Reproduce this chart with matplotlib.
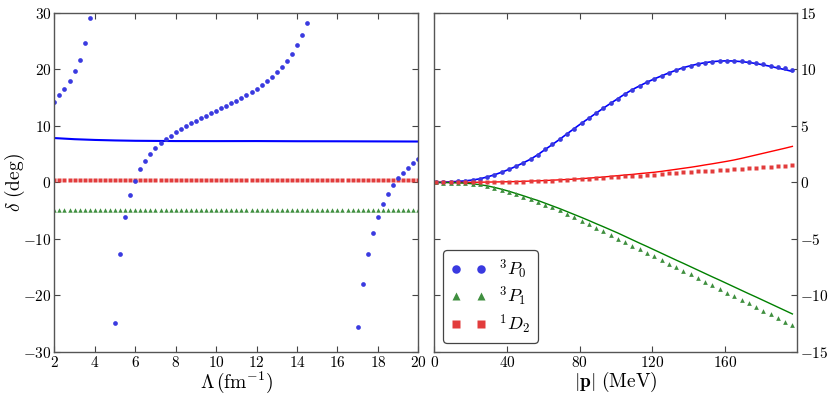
import numpy as np
import matplotlib
matplotlib.use('Agg')
import matplotlib.pyplot as plt
from matplotlib.ticker import FuncFormatter

plt.rcParams['mathtext.fontset'] = 'cm'
plt.rcParams['font.family'] = 'DejaVu Serif'

# left panel: phase shift vs cutoff Lambda
lam = np.arange(2, 20.001, 0.25)
p0_lam = [14.3, 15.4, 16.6, 18.0, 19.7, 21.7, 24.7, 29.1,
          np.nan, np.nan, np.nan, np.nan,
          -24.8, -12.65, -6.2, -2.3, 0.3, 2.3, 3.75, 5.0, 6.05, 6.9,
          7.6, 8.3, 8.9, 9.5, 10.0, 10.5, 10.95, 11.35, 11.8, 12.3,
          12.7, 13.1, 13.5, 14.0, 14.5, 15.0, 15.5, 16.0, 16.6, 17.3,
          17.9, 18.7, 19.5, 20.4, 21.5, 22.8, 24.3, 26.1, 28.3,
          np.nan, np.nan, np.nan, np.nan, np.nan, np.nan, np.nan, np.nan, np.nan,
          -25.6, -18.0, -12.65, -8.9, -6.05, -3.8, -2.0, -0.5, 0.7, 1.7,
          2.6, 3.4, 4.15]
p1_lam = [-4.9, -4.9, -4.9, -4.9, -4.9, -4.9, -4.9, -4.9, -4.9, -4.9,
          -4.9, -4.9, -4.9, -4.9, -4.9, -4.9, -4.9, -4.9, -4.9, -4.9,
          -4.9, -4.9, -4.9, -4.9, -4.9, -4.9, -4.9, -4.9, -4.9, -4.9,
          -4.9, -4.9, -4.9, -4.9, -4.9, -4.9, -4.9, -4.9, -4.9, -4.9,
          -4.9, -4.9, -4.9, -4.9, -4.9, -4.9, -4.9, -4.9, -4.9, -4.9,
          -4.9, -4.9, -4.9, -4.9, -4.9, -4.9, -4.9, -4.9, -4.9, -4.9,
          -4.9, -4.9, -4.9, -4.9, -4.9, -4.9, -4.9, -4.9, -4.9, -4.9,
          -4.9, -4.9, -4.9]
d2_lam = [0.45, 0.45, 0.45, 0.45, 0.45, 0.45, 0.45, 0.45, 0.45, 0.45,
          0.45, 0.45, 0.45, 0.45, 0.45, 0.45, 0.45, 0.45, 0.45, 0.45,
          0.45, 0.45, 0.45, 0.45, 0.45, 0.45, 0.45, 0.45, 0.45, 0.45,
          0.45, 0.45, 0.45, 0.45, 0.45, 0.45, 0.45, 0.45, 0.45, 0.45,
          0.45, 0.45, 0.45, 0.45, 0.45, 0.45, 0.45, 0.45, 0.45, 0.45,
          0.45, 0.45, 0.45, 0.45, 0.45, 0.45, 0.45, 0.45, 0.45, 0.45,
          0.45, 0.45, 0.45, 0.45, 0.45, 0.45, 0.45, 0.45, 0.45, 0.45,
          0.45, 0.45, 0.45]
lam_line = [2, 3, 4, 5, 6, 8, 10, 12, 14, 16, 18, 20]
p0_lam_line = [7.85, 7.65, 7.52, 7.43, 7.37, 7.32, 7.31, 7.32, 7.29, 7.28, 7.26, 7.24]

# right panel: phase shift vs momentum
p = np.arange(1, 198, 4)
p0_pts = [0.0, 0.02, 0.05, 0.09, 0.14, 0.21, 0.32, 0.48, 0.67, 0.9,
          1.15, 1.43, 1.74, 2.06, 2.46, 2.92, 3.36, 3.82, 4.3, 4.77,
          5.24, 5.68, 6.13, 6.57, 7.0, 7.42, 7.84, 8.22, 8.55, 8.87,
          9.16, 9.43, 9.69, 9.93, 10.16, 10.33, 10.48, 10.6, 10.69, 10.74,
          10.77, 10.75, 10.71, 10.65, 10.56, 10.44, 10.32, 10.2, 10.1, 9.97]
p0_line = [0.0, 0.02, 0.05, 0.09, 0.14, 0.21, 0.32, 0.48, 0.67, 0.9,
           1.15, 1.43, 1.74, 2.06, 2.46, 2.92, 3.36, 3.82, 4.3, 4.77,
           5.24, 5.68, 6.13, 6.57, 7.0, 7.42, 7.84, 8.22, 8.55, 8.87,
           9.16, 9.43, 9.69, 9.93, 10.16, 10.33, 10.48, 10.6, 10.69, 10.74,
           10.76, 10.74, 10.69, 10.62, 10.52, 10.4, 10.27, 10.12, 9.98, 9.82]
p1_pts = [0.0, -0.01, -0.02, -0.04, -0.06, -0.1, -0.18, -0.32, -0.47, -0.65,
          -0.86, -1.05, -1.29, -1.5, -1.76, -1.98, -2.2, -2.46, -2.77, -3.06,
          -3.38, -3.7, -4.0, -4.33, -4.65, -4.97, -5.3, -5.62, -5.93, -6.25,
          -6.55, -6.87, -7.19, -7.5, -7.81, -8.14, -8.46, -8.78, -9.09, -9.42,
          -9.75, -10.08, -10.4, -10.7, -11.02, -11.35, -11.67, -11.99, -12.32, -12.64]
p1_line = [0.0, -0.01, -0.02, -0.04, -0.07, -0.12, -0.2, -0.3, -0.44, -0.6,
           -0.78, -0.98, -1.18, -1.4, -1.6, -1.84, -2.08, -2.32, -2.58, -2.84,
           -3.1, -3.37, -3.65, -3.92, -4.2, -4.48, -4.78, -5.08, -5.38, -5.67,
           -5.97, -6.27, -6.57, -6.87, -7.16, -7.46, -7.76, -8.06, -8.36, -8.65,
           -8.95, -9.25, -9.55, -9.85, -10.14, -10.44, -10.74, -11.04, -11.34, -11.64]
d2_pts = [0.0, 0.0, 0.0, 0.0, 0.0, 0.01, 0.01, 0.02, 0.03, 0.04,
          0.05, 0.06, 0.08, 0.1, 0.12, 0.14, 0.17, 0.2, 0.23, 0.27,
          0.3, 0.34, 0.37, 0.41, 0.45, 0.49, 0.53, 0.57, 0.61, 0.65,
          0.7, 0.74, 0.79, 0.84, 0.88, 0.92, 0.97, 1.01, 1.05, 1.1,
          1.14, 1.19, 1.23, 1.27, 1.31, 1.35, 1.39, 1.43, 1.47, 1.5]
d2_line = [0.0, 0.0, 0.0, 0.0, 0.01, 0.01, 0.02, 0.03, 0.04, 0.05,
           0.06, 0.08, 0.1, 0.12, 0.14, 0.17, 0.2, 0.23, 0.26, 0.29,
           0.33, 0.38, 0.43, 0.48, 0.54, 0.6, 0.66, 0.71, 0.78, 0.84,
           0.9, 0.98, 1.07, 1.16, 1.25, 1.34, 1.44, 1.55, 1.65, 1.76,
           1.87, 1.99, 2.13, 2.28, 2.43, 2.58, 2.73, 2.88, 3.03, 3.19]

cb = '#3a3ae0'
cg = '#3f8f3f'
cr = '#e23c3c'

def mfmt(v, pos):
    return r'$%d$' % round(v)

fig = plt.figure(figsize=(8.3, 3.99), dpi=100)
ax1 = fig.add_axes([0.0655, 0.118, 0.4385, 0.8496])
ax2 = fig.add_axes([0.5233, 0.118, 0.4373, 0.8496])

#左圖
ax1.plot(lam_line, p0_lam_line, color='#0000ff', lw=1.5)
ax1.plot(lam, d2_lam, 's', color=cr, ms=3.0, mec='none')
ax1.plot(lam, p1_lam, '^', color=cg, ms=3.2, mec='none')
ax1.plot(lam, p0_lam, 'o', color=cb, ms=3.4, mec='none')
ax1.set_xlim(2, 20)
ax1.set_ylim(-30, 30)
ax1.set_xticks(range(2, 21, 2))
ax1.set_yticks(range(-30, 31, 10))
ax1.set_xlabel(r'$\Lambda\,(\mathrm{fm}^{-1})$', fontsize=14, labelpad=0)
ax1.set_ylabel(r'$\delta\ (\mathrm{deg})$', fontsize=14)
ax1.yaxis.set_label_coords(-0.075, 0.5)

#右圖
ax2.plot(p, p0_line, color='#0000ff', lw=1.2)
ax2.plot(p, d2_line, color='#ff0000', lw=1.0)
ax2.plot(p, p1_line, color='#008000', lw=1.0)
ax2.plot(p, p0_pts, 'o', color=cb, ms=3.4, mec='none', label=r'$^3P_0$')
ax2.plot(p, p1_pts, '^', color=cg, ms=3.4, mec='none', label=r'$^3P_1$')
ax2.plot(p, d2_pts, 's', color=cr, ms=3.2, mec='none', label=r'$^1D_2$')
ax2.set_xlim(0, 199.7)
ax2.set_ylim(-15, 15)
ax2.set_xticks([0, 40, 80, 120, 160])
ax2.set_yticks(range(-15, 16, 5))
ax2.yaxis.tick_right()
ax2.set_xlabel(r'$|\mathbf{p}|\ (\mathrm{MeV})$', fontsize=14, labelpad=0)
leg = ax2.legend(loc='lower left', numpoints=2, markerscale=1.8, fontsize=13,
                 fancybox=True, labelspacing=0.2, handletextpad=0.7,
                 borderaxespad=0.5, handlelength=2.0, borderpad=0.4)
leg.get_frame().set_edgecolor('#444444')
leg.get_frame().set_linewidth(0.9)
leg.get_frame().set_alpha(1)

for ax in (ax1, ax2):
    ax.xaxis.set_major_formatter(FuncFormatter(mfmt))
    ax.yaxis.set_major_formatter(FuncFormatter(mfmt))
    ax.tick_params(direction='in', top=True, bottom=True, left=True, right=True,
                   labelsize=11, length=4, width=0.8, color='#444444', pad=2)
    for s in ax.spines.values():
        s.set_color('#555555')
        s.set_linewidth(1.0)
ax2.tick_params(labelleft=False, labelright=True)

fig.savefig('out.png', dpi=100)
